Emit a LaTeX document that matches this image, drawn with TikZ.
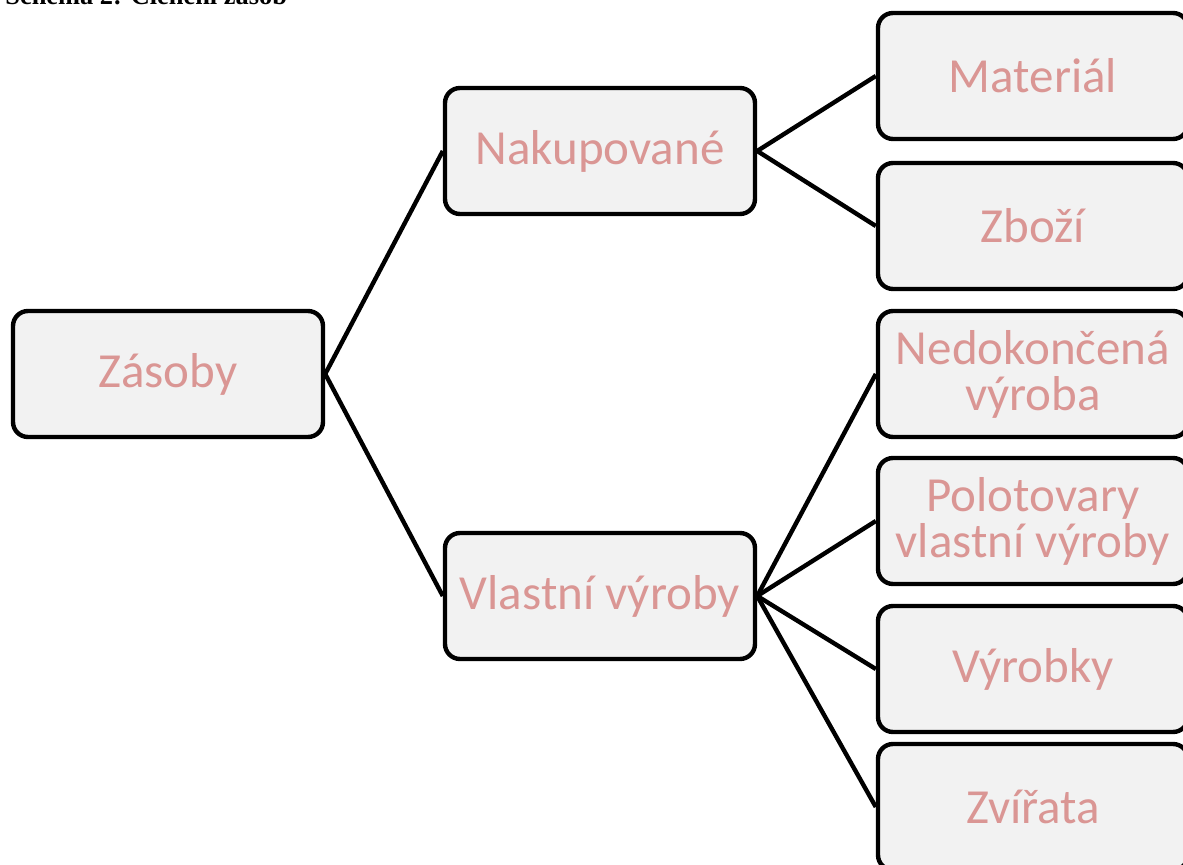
\documentclass[tikz,border=0pt]{standalone}
\usepackage{fontspec}
\setmainfont{Carlito}
\newfontfamily\titlefont{Liberation Serif}
\usetikzlibrary{positioning}
\definecolor{boxfill}{HTML}{F2F2F2}
\definecolor{labelred}{HTML}{DA9694}

\begin{document}
\begin{tikzpicture}[
            x=0.5pt, y=-0.5pt,
            item/.style={draw, line width=2.2pt, fill=boxfill, rounded corners=7.5pt,
                minimum width=155pt, minimum height=63pt, inner sep=2pt, align=center,
                text=labelred, font={\fontsize{24.5}{23}\selectfont}},
            link/.style={line width=2.2pt}
        ]
            \useasboundingbox (0,0) rectangle (1183,865);

            % Title
            \node[anchor=base west, inner sep=0pt, font={\titlefont\bfseries\fontsize{13.2}{15}\selectfont}] (title) at (5,5) {Schéma 2: Členění zásob};

            % Levels
            \node[item] (zasoby) at (168,374) {Zásoby};
            \node[item] (nakup) at (600,151) {Nakupované};
            \node[item] (vlastni) at (600,596) {Vlastní výroby};

            % Right column
            \node[item] (material) at (1033,76) {Materiál};
            \node[item] (zbozi) at (1033,226) {Zboží};
            \node[item] (nedokoncena) at (1033,374) {Nedokončená\\výroba};
            \node[item] (polotovary) at (1033,521) {Polotovary\\vlastní výroby};
            \node[item] (vyrobky) at (1033,669) {Výrobky};
            \node[item] (zvirata) at (1033,807) {Zvířata};

            % Connectors
            \draw[link] (zasoby.east) -- (nakup.west);
            \draw[link] (zasoby.east) -- (vlastni.west);
            \draw[link] (nakup.east) -- (material.west);
            \draw[link] (nakup.east) -- (zbozi.west);
            \draw[link] (vlastni.east) -- (nedokoncena.west);
            \draw[link] (vlastni.east) -- (polotovary.west);
            \draw[link] (vlastni.east) -- (vyrobky.west);
            \draw[link] (vlastni.east) -- (zvirata.west);
        \end{tikzpicture}
\end{document}
